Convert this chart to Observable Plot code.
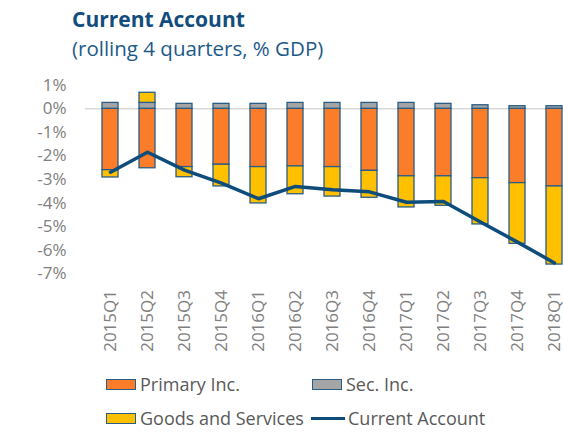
<!DOCTYPE html>
<html>
<head>
<meta charset="utf-8">
<script src="https://cdn.jsdelivr.net/npm/d3@7"></script>
<script src="https://cdn.jsdelivr.net/npm/@observablehq/plot@0.6"></script>
<style>
  html, body { margin: 0; padding: 0; background: #fff; width: 563px; height: 434px; overflow: hidden; }
  body { position: relative; font-family: "Open Sans", sans-serif; }
  #title { position: absolute; left: 72px; top: 5px; font-size: 21px; font-weight: 700; color: #124d7e; line-height: 28px; white-space: nowrap; }
  #subtitle { position: absolute; left: 72px; top: 35px; font-size: 20.5px; color: #1d5a8a; line-height: 26px; white-space: nowrap; }
  #chart { position: absolute; left: 0; top: 70px; width: 600px; }
  #chart svg { max-width: none !important; }
  .leg { position: absolute; font-size: 18px; color: #595959; line-height: 22px; white-space: nowrap; display: flex; align-items: center; }
  .sw { display: inline-block; width: 28px; height: 9px; border: 1.5px solid #2a5d85; margin-right: 4px; }
  .ln { display: inline-block; width: 34px; height: 3px; background: #0d4c7b; margin-right: 3px; }
</style>
</head>
<body>
<div id="title">Current Account</div>
<div id="subtitle">(rolling 4 quarters, % GDP)</div>
<div id="chart"></div>
<div class="leg" style="left:106px; top:373px;"><span class="sw" style="background:#fb7d29"></span>Primary Inc.</div>
<div class="leg" style="left:312px; top:373px;"><span class="sw" style="background:#a5a5a5"></span>Sec. Inc.</div>
<div class="leg" style="left:106px; top:407px;"><span class="sw" style="background:#ffc000"></span>Goods and Services</div>
<div class="leg" style="left:311px; top:407px;"><span class="ln"></span>Current Account</div>
<script>
const quarters = ["2015Q1","2015Q2","2015Q3","2015Q4","2016Q1","2016Q2","2016Q3","2016Q4","2017Q1","2017Q2","2017Q3","2017Q4","2018Q1"];
const primaryInc = [-2.60,-2.52,-2.47,-2.37,-2.47,-2.44,-2.47,-2.63,-2.86,-2.86,-2.94,-3.15,-3.29];
const secInc = [0.25,0.25,0.21,0.21,0.21,0.25,0.25,0.25,0.25,0.21,0.15,0.11,0.11];
const goodsServices = [-0.31,0.43,-0.43,-0.92,-1.54,-1.18,-1.25,-1.14,-1.32,-1.25,-1.96,-2.57,-3.31];
const currentAccount = [-2.69,-1.84,-2.60,-3.15,-3.81,-3.29,-3.43,-3.52,-3.96,-3.93,-4.80,-5.65,-6.53];
const yTicks = [1,0,-1,-2,-3,-4,-5,-6,-7];

const seriesNames = ["Primary Inc.","Sec. Inc.","Goods and Services"];
const seriesColors = ["#fb7d29","#a5a5a5","#ffc000"];
const seriesValues = [primaryInc, secInc, goodsServices];
const bars = [];
seriesNames.forEach((s, k) => quarters.forEach((q, i) => bars.push({q, s, v: seriesValues[k][i], order: k})));
const line = quarters.map((q, i) => ({q, v: currentAccount[i]}));

const chart = Plot.plot({
  width: 600,
  height: 290,
  marginTop: 14.7,
  marginBottom: 86.5,
  marginLeft: 85,
  marginRight: 22,
  style: {fontFamily: "Open Sans, sans-serif", background: "transparent", maxWidth: "none"},
  x: {type: "band", domain: quarters, paddingInner: 0.58, paddingOuter: 0.29, label: null},
  y: {domain: [-7, 1], label: null},
  color: {domain: seriesNames, range: seriesColors},
  marks: [
    Plot.ruleY([0], {stroke: "#d9d9d9", strokeWidth: 1.5}),
    Plot.barY(bars, Plot.stackY({order: null, x: "q", y: "v", z: "s", fill: "s", stroke: "#2a5d85", strokeWidth: 1.3, inset: 0})),
    Plot.line(line, {x: "q", y: "v", stroke: "#0d4c7b", strokeWidth: 3.5, strokeLinejoin: "round"}),
    Plot.axisY({ticks: yTicks, tickFormat: d => `${d}%`, tickSize: 0, tickPadding: 19, fontSize: 17, fill: "#808080", label: null}),
    Plot.axisX({tickRotate: -90, tickSize: 0, tickPadding: 16, fontSize: 17, fill: "#808080", label: null})
  ]
});
document.getElementById("chart").appendChild(chart);
</script>
</body>
</html>
